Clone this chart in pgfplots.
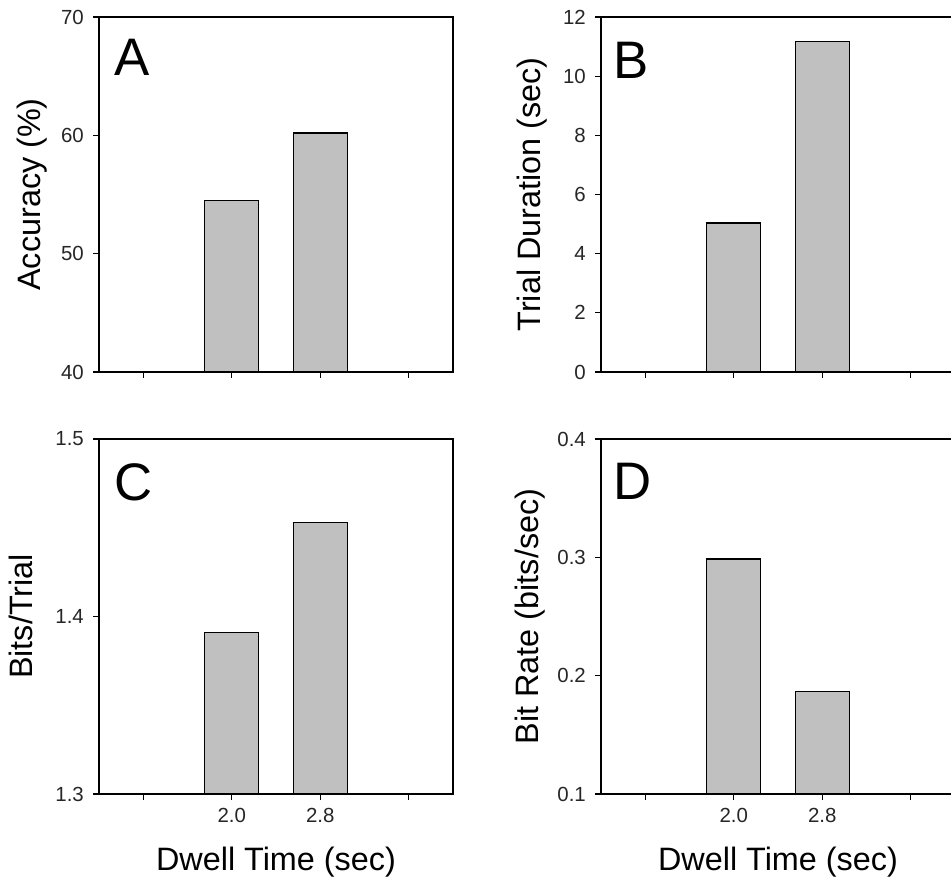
\documentclass[border=0pt]{standalone}
\usepackage{fontspec}
\setmainfont{Liberation Sans}
\usepackage{pgfplots}
\pgfplotsset{compat=1.18}
\definecolor{barfill}{RGB}{192,192,192}
\newcommand{\tlf}{\fontsize{20.5}{20.5}\selectfont}
\tikzset{
  barstyle/.style={fill=barfill, draw=black, line width=1.3bp},
  letter/.style={anchor=north west, inner sep=0pt, font=\fontsize{53}{53}\selectfont},
}
\pgfplotsset{
  panel/.style={
    scale only axis, width=354bp, height=355bp,
    anchor=south west,
    xmin=0.5, xmax=4.5, xtick={1,2,3,4},
    xtick pos=bottom, ytick pos=left, tick align=outside,
    major tick length=6bp,
    axis line style={line width=1.4bp, black},
    every tick/.style={black, line width=1.2bp},
    ybar, bar width=0.61,
    yticklabel style={font=\tlf, color=black!85, inner sep=0pt, xshift=-9bp},
    xticklabel style={font=\tlf, color=black!85, inner sep=0pt, yshift=-8bp, anchor=north},
    ylabel style={font=\fontsize{32.5}{32.5}\selectfont, anchor=base, inner sep=0pt},
    xlabel style={font=\fontsize{32.5}{32.5}\selectfont, at={([yshift=-76bp]axis description cs:0.5,0)}, anchor=base, inner sep=0pt},
  },
}
\begin{document}
\begin{tikzpicture}
% Panel A
\begin{axis}[panel, at={(99bp,505bp)},
  ymin=40, ymax=70, ytick={40,50,60,70}, yticklabels={40,50,60,70},
  xticklabels={,,,},
  ylabel={Accuracy (\%)}, ylabel style={at={([xshift=-58bp]axis description cs:0,0.5)}}]
\addplot[barstyle] coordinates {(2,54.5) (3,60.2)};
\node[letter] at (rel axis cs:0.042,0.938) {A};
\end{axis}
% Panel B
\begin{axis}[panel, at={(601bp,505bp)},
  ymin=0, ymax=12, ytick={0,2,4,6,8,10,12}, yticklabels={0,2,4,6,8,10,12},
  xticklabels={,,,},
  ylabel={Trial Duration (sec)}, ylabel style={at={([xshift=-61bp]axis description cs:0,0.5)}}]
\addplot[barstyle] coordinates {(2,5.04) (3,11.17)};
\node[letter] at (rel axis cs:0.035,0.93) {B};
\end{axis}
% Panel C
\begin{axis}[panel, at={(99bp,83bp)},
  ymin=1.3, ymax=1.5, ytick={1.3,1.4,1.5}, yticklabels={1.3,1.4,1.5},
  xticklabels={,2.0,2.8,},
  xlabel={Dwell Time (sec)},
  ylabel={Bits/Trial}, ylabel style={at={([xshift=-66bp]axis description cs:0,0.5)}}]
\addplot[barstyle] coordinates {(2,1.391) (3,1.453)};
\node[letter] at (rel axis cs:0.042,0.932) {C};
\end{axis}
% Panel D
\begin{axis}[panel, at={(601bp,83bp)},
  ymin=0.1, ymax=0.4, ytick={0.1,0.2,0.3,0.4}, yticklabels={0.1,0.2,0.3,0.4},
  xticklabels={,2.0,2.8,},
  xlabel={Dwell Time (sec)},
  ylabel={Bit Rate (bits/sec)}, ylabel style={at={([xshift=-63bp]axis description cs:0,0.5)}}]
\addplot[barstyle] coordinates {(2,0.2985) (3,0.1865)};
\node[letter] at (rel axis cs:0.035,0.932) {D};
\end{axis}
\pgfresetboundingbox
\path[use as bounding box] (0,0) rectangle (951bp,877bp);
\end{tikzpicture}
\end{document}
